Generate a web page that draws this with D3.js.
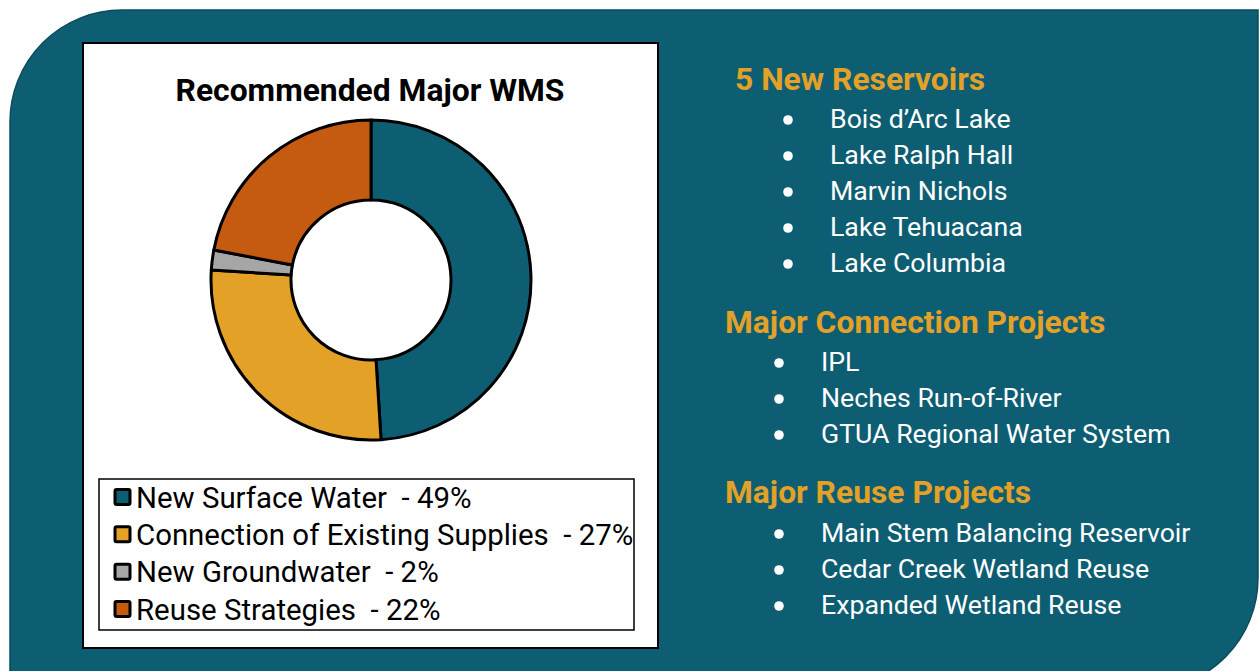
<!DOCTYPE html>
<html>
<head>
<meta charset="utf-8">
<script src="https://cdn.jsdelivr.net/npm/d3@7"></script>
<style>
  body { margin: 0; background: #fff; }
  svg { display: block; font-family: Roboto, "Noto Sans", sans-serif; }
</style>
</head>
<body>
<svg id="chart"></svg>
<script>
// data
const categories = ['New Surface Water', 'Connection of Existing Supplies', 'New Groundwater', 'Reuse Strategies'];
const shares = [49, 27, 2, 22];
const sliceColors = ['#0e5e73', '#e3a127', '#a6a6a6', '#c55a11'];

const reservoirs = ['Bois d\u2019Arc Lake', 'Lake Ralph Hall', 'Marvin Nichols', 'Lake Tehuacana', 'Lake Columbia'];
const connections = ['IPL', 'Neches Run-of-River', 'GTUA Regional Water System'];
const reuseProjects = ['Main Stem Balancing Reservoir', 'Cedar Creek Wetland Reuse', 'Expanded Wetland Reuse'];

const width = 1259, height = 671;
const teal = '#0e5e73', gold = '#e3a127';

const svg = d3.select('#chart')
    .attr('width', width)
    .attr('height', height);

// teal backdrop: rounded top-left and bottom-right corners only
const r = 112;
const bg = d3.path();
bg.moveTo(10, 10 + r);
bg.arcTo(10, 10, 10 + r, 10, r);
bg.lineTo(1258, 10);
bg.lineTo(1258, 690 - r);
bg.arcTo(1258, 690, 1258 - r, 690, r);
bg.lineTo(10, 690);
bg.closePath();

svg.append('path')
    .attr('d', bg.toString())
    .attr('fill', teal)
    .attr('stroke', '#0a4b5c')
    .attr('stroke-width', 1.5);

// white chart panel
svg.append('rect')
    .attr('x', 83).attr('y', 43)
    .attr('width', 575).attr('height', 605)
    .attr('fill', '#fff')
    .attr('stroke', '#000')
    .attr('stroke-width', 2);

svg.append('text')
    .attr('x', 370).attr('y', 101)
    .attr('text-anchor', 'middle')
    .attr('font-size', 31.8)
    .attr('font-weight', 'bold')
    .attr('fill', '#000')
    .text('Recommended Major WMS');

// donut
const pie = d3.pie().sort(null).value(d => d);
const arc = d3.arc().innerRadius(80).outerRadius(160);
const color = d3.scaleOrdinal().domain(categories).range(sliceColors);

const donut = svg.append('g')
    .attr('transform', 'translate(371,280)');

donut.selectAll('path')
    .data(pie(shares))
    .join('path')
    .attr('d', arc)
    .attr('fill', (d, i) => color(categories[i]))
    .attr('stroke', '#000')
    .attr('stroke-width', 3)
    .attr('stroke-linejoin', 'round');

// legend
svg.append('rect')
    .attr('x', 99).attr('y', 479)
    .attr('width', 535).attr('height', 151)
    .attr('fill', '#fff')
    .attr('stroke', '#000')
    .attr('stroke-width', 1.5);

const legendY = d3.scalePoint()
    .domain(categories)
    .range([497, 609]);

const legend = svg.append('g');
const item = legend.selectAll('g')
    .data(categories)
    .join('g')
    .attr('transform', d => `translate(0,${legendY(d)})`);

item.append('rect')
    .attr('x', 115).attr('y', -7.5)
    .attr('width', 15).attr('height', 15)
    .attr('fill', d => color(d))
    .attr('stroke', '#000')
    .attr('stroke-width', 3)
    .attr('rx', 1.5);

item.append('text')
    .attr('x', 136).attr('y', 10.5)
    .attr('font-size', 29.4)
    .attr('fill', '#000')
    .attr('xml:space', 'preserve')
    .text((d, i) => `${d}  - ${shares[i]}%`);

// right-hand lists
function addSection(title, items, x, titleY, bulletX, textX, firstY) {
    svg.append('text')
        .attr('x', x).attr('y', titleY)
        .attr('font-size', 31.8)
        .attr('font-weight', 'bold')
        .attr('fill', gold)
        .text(title);

    const g = svg.append('g');
    const rows = g.selectAll('g')
        .data(items)
        .join('g')
        .attr('transform', (d, i) => `translate(0,${firstY + i * 36})`);

    rows.append('circle')
        .attr('cx', bulletX).attr('cy', -8)
        .attr('r', 4.8)
        .attr('fill', '#fff');

    rows.append('text')
        .attr('x', textX).attr('y', 0)
        .attr('font-size', 26.7)
        .attr('fill', '#fff')
        .text(d => d);
}

addSection('5 New Reservoirs', reservoirs, 735, 90, 788, 830, 128);
addSection('Major Connection Projects', connections, 725, 333, 779, 821, 371);
addSection('Major Reuse Projects', reuseProjects, 725, 503, 779, 821, 542);
</script>
</body>
</html>
